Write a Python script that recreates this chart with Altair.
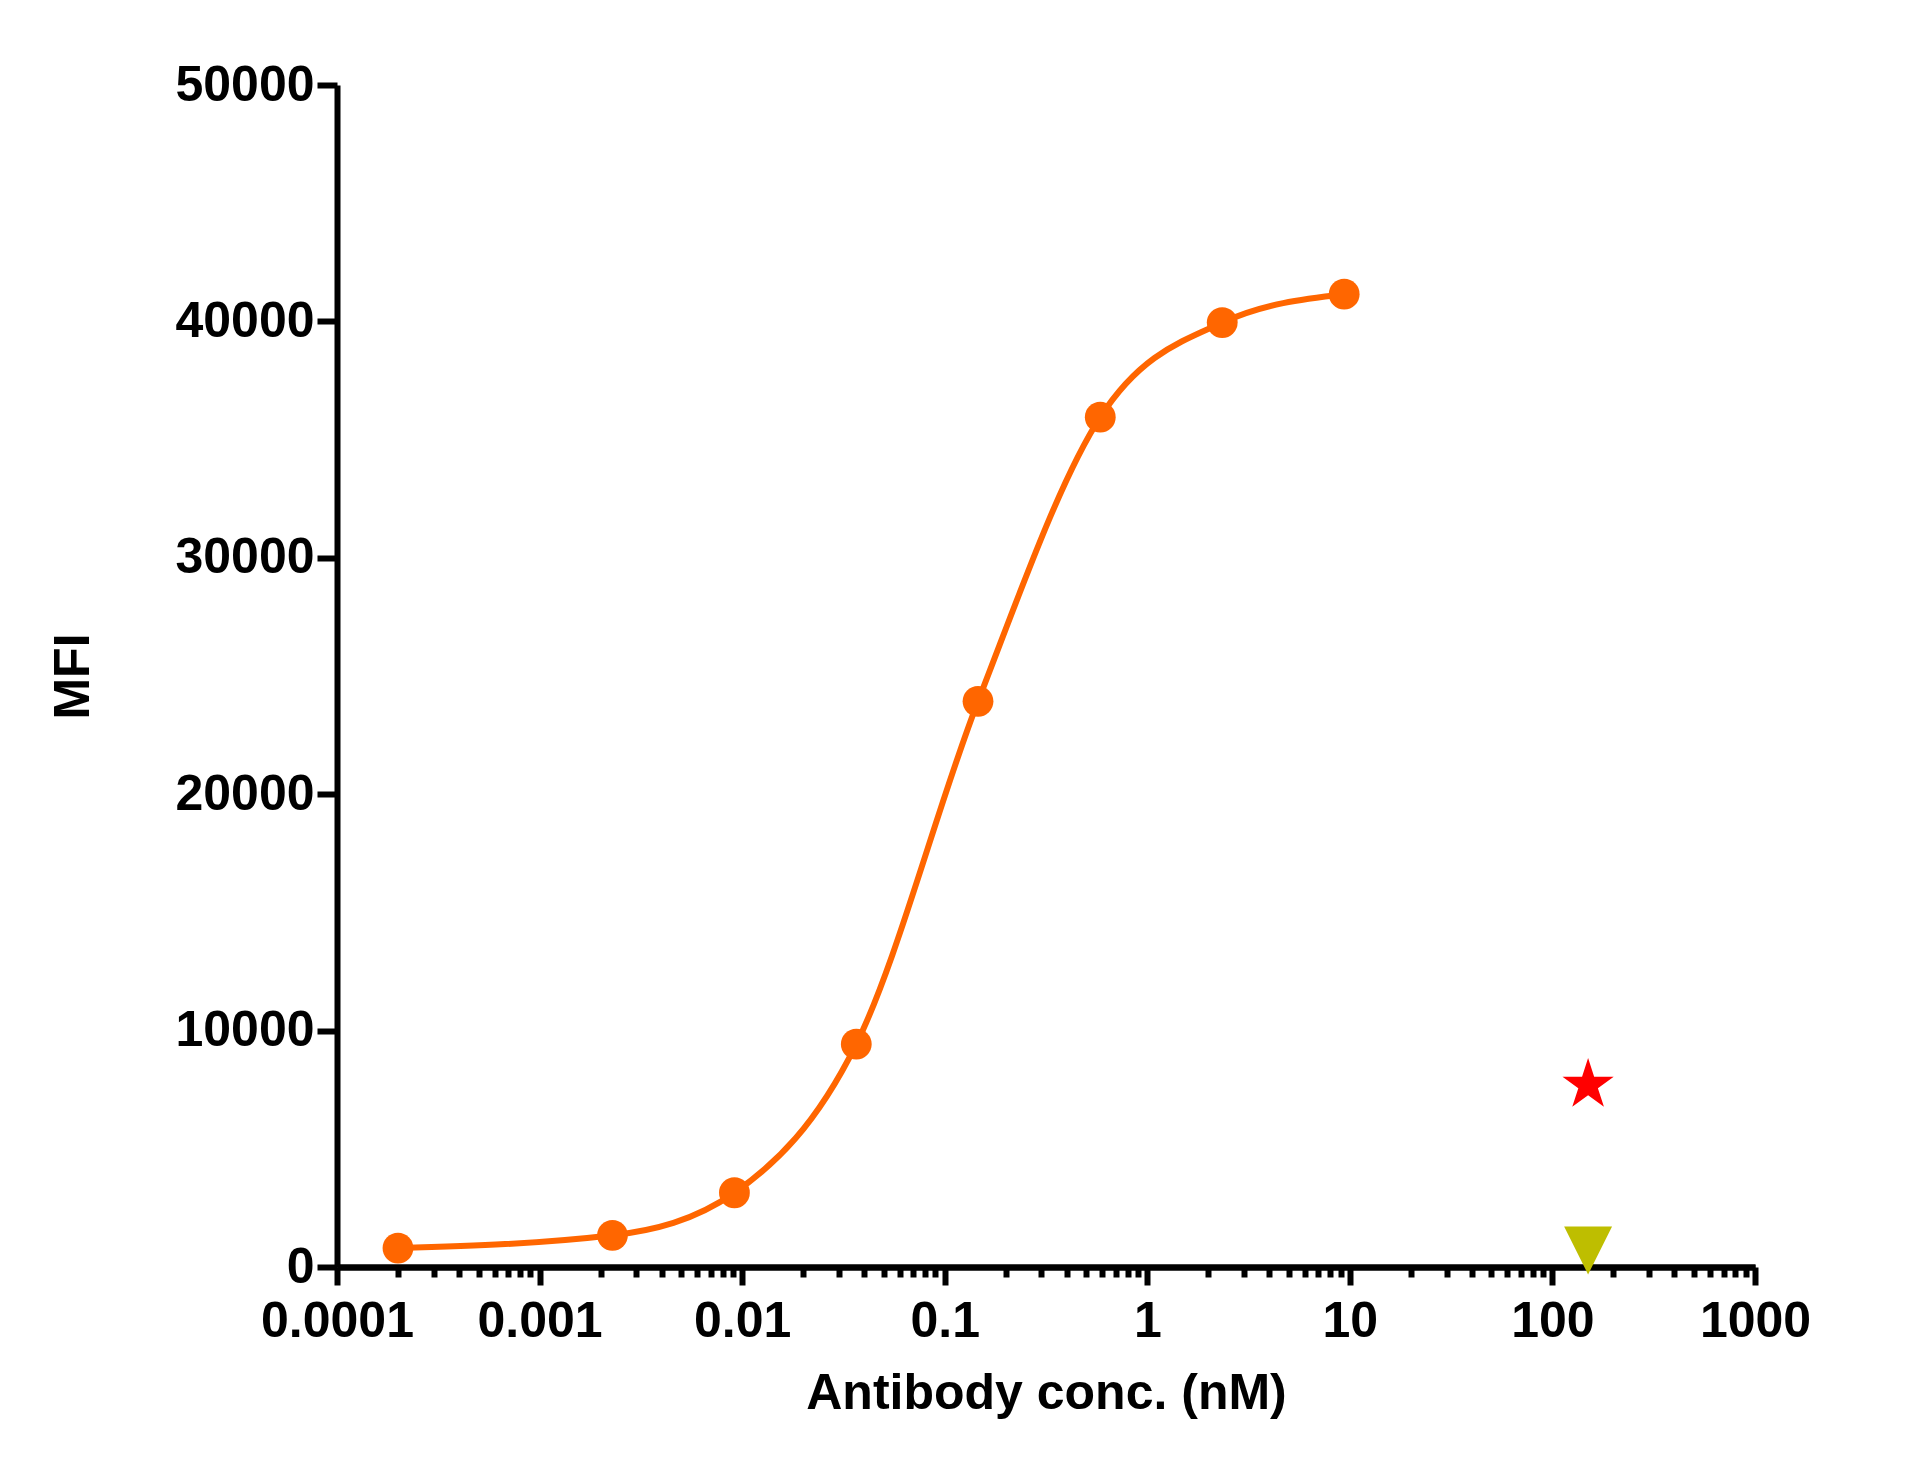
import altair as alt
import pandas as pd

# antibody dilution series (nM) and measured MFI
conc = [0.0002, 0.00229, 0.00916, 0.0366, 0.146, 0.586, 2.344, 9.375]
mfi = [800, 1340, 3140, 9430, 23930, 35950, 39950, 41150]

# controls drawn at 150 nM
ctrl_conc = [150, 150]
ctrl_mfi = [7700, 700]
ctrl_name = ["star", "triangle"]

major_ticks = [0.0001, 0.001, 0.01, 0.1, 1, 10, 100, 1000]
minor_ticks = [m * 10.0 ** k for k in range(-4, 3) for m in range(2, 10)]
y_ticks = [0, 10000, 20000, 30000, 40000, 50000]

df = pd.DataFrame({"conc": conc, "mfi": mfi})
ctrl = pd.DataFrame({"conc": ctrl_conc, "mfi": ctrl_mfi, "name": ctrl_name})

FONT = "Liberation Sans"
ORANGE = "#FF6600"

STAR = ("M0,-1 L0.2245,-0.309 L0.951,-0.309 L0.3633,0.118 L0.588,0.809 "
        "L0,0.382 L-0.588,0.809 L-0.3633,0.118 L-0.951,-0.309 L-0.2245,-0.309 Z")
TRI_DOWN = "M-1,-1 L1,-1 L0,1 Z"

x_scale = alt.Scale(type="log", domain=[0.0001, 1000], nice=False)
y_scale = alt.Scale(domain=[0, 50000], nice=False)

x_major = alt.X(
    "conc:Q", scale=x_scale,
    axis=alt.Axis(
        orient="bottom", values=major_ticks, format="~g", tickSize=18,
        labelPadding=11, labelOverlap=False, labelFlush=False, labelBound=False,
        title="Antibody conc. (nM)", titlePadding=22,
    ),
)
x_minor = alt.X(
    "conc:Q", scale=x_scale,
    axis=alt.Axis(
        orient="bottom", values=minor_ticks, tickSize=10, labels=False, title=None,
    ),
)
x_none = alt.X("conc:Q", scale=x_scale, axis=None)

y_enc = alt.Y(
    "mfi:Q", scale=y_scale,
    axis=alt.Axis(values=y_ticks, format="d", tickSize=20, labelPadding=3,
                  labelOverlap=False, labelFlush=False,
                  title="MFI", titlePadding=76),
)

curve = alt.Chart(df).mark_line(
    color=ORANGE, strokeWidth=6, interpolate="monotone"
).encode(x=x_major, y=y_enc)

points = alt.Chart(df).mark_point(
    shape="circle", filled=True, opacity=1, color=ORANGE, size=950
).encode(x=x_none, y=y_enc)

star = alt.Chart(ctrl).transform_filter("datum.name == 'star'").mark_point(
    shape=STAR, filled=True, opacity=1, color="#FF0000", size=2900
).encode(x=x_minor, y=y_enc)

tri = alt.Chart(ctrl).transform_filter("datum.name == 'triangle'").mark_point(
    shape=TRI_DOWN, filled=True, opacity=1, color="#BEBE00", size=2300
).encode(x=x_none, y=y_enc)

chart = alt.layer(curve, points, star, tri).resolve_axis(
    x="independent"
).properties(
    width=1418,
    height=1182,
    autosize=alt.AutoSizeParams(type="none"),
    padding={"left": 329, "top": 77, "right": 130, "bottom": 190},
).configure_view(
    stroke=None
).configure_axis(
    grid=False,
    domainColor="black",
    domainWidth=6,
    tickColor="black",
    tickWidth=6,
    labelFont=FONT,
    labelFontSize=50,
    labelFontWeight="bold",
    labelColor="black",
    titleFont=FONT,
    titleFontSize=50,
    titleFontWeight="bold",
    titleColor="black",
)

chart.save("out.html", embed_options={"renderer": "svg", "actions": False})
